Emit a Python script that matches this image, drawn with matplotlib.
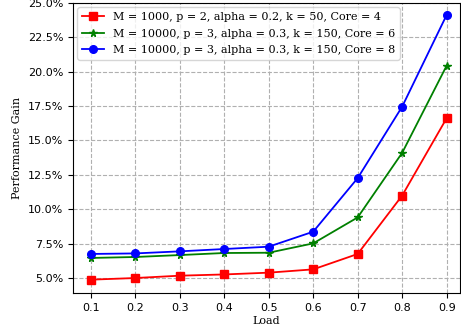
import matplotlib
matplotlib.use('Agg')
import matplotlib.pyplot as plt
from matplotlib.ticker import PercentFormatter

# load levels and measured gains (fraction)
load = [0.1, 0.2, 0.3, 0.4, 0.5, 0.6, 0.7, 0.8, 0.9]
gain_core4 = [0.0487, 0.0499, 0.0516, 0.0525, 0.0538, 0.0562, 0.0674, 0.1099, 0.1662]
gain_core6 = [0.0645, 0.0652, 0.0666, 0.0681, 0.0683, 0.0751, 0.0940, 0.1410, 0.2044]
gain_core8 = [0.0674, 0.0678, 0.0693, 0.0710, 0.0727, 0.0836, 0.1226, 0.1746, 0.2413]

labels = ['M = 1000, p = 2, alpha = 0.2, k = 50, Core = 4',
          'M = 10000, p = 3, alpha = 0.3, k = 150, Core = 6',
          'M = 10000, p = 3, alpha = 0.3, k = 150, Core = 8']

fig = plt.figure(figsize=(4.61, 3.33), dpi=100)
ax = fig.add_axes([73 / 461, 40 / 333, 387 / 461, 290 / 333])

ax.plot(load, gain_core4, 'rs-', markersize=5.5, linewidth=1.3, label=labels[0])
ax.plot(load, gain_core6, 'g*-', markersize=5.5, linewidth=1.3, label=labels[1])
ax.plot(load, gain_core8, 'bo-', markersize=5.5, linewidth=1.3, label=labels[2])

ax.set_xlim(0.06, 0.93)
ax.set_ylim(0.039, 0.25)
ax.set_xticks(load)
ax.set_yticks([0.05, 0.075, 0.10, 0.125, 0.15, 0.175, 0.20, 0.225, 0.25])
ax.yaxis.set_major_formatter(PercentFormatter(1.0, decimals=1))
ax.tick_params(labelsize=8)
ax.grid(True, linestyle='--', color='#b0b0b0', linewidth=0.8)

ax.set_xlabel('Load', family='DejaVu Serif', fontsize=8, labelpad=2)
ax.set_ylabel('Performance Gain', family='DejaVu Serif', fontsize=8)
ax.legend(loc='upper left', prop={'family': 'DejaVu Serif', 'size': 8},
          handlelength=2, borderaxespad=0.4, labelspacing=0.6)

fig.savefig('out.png', dpi=100)
